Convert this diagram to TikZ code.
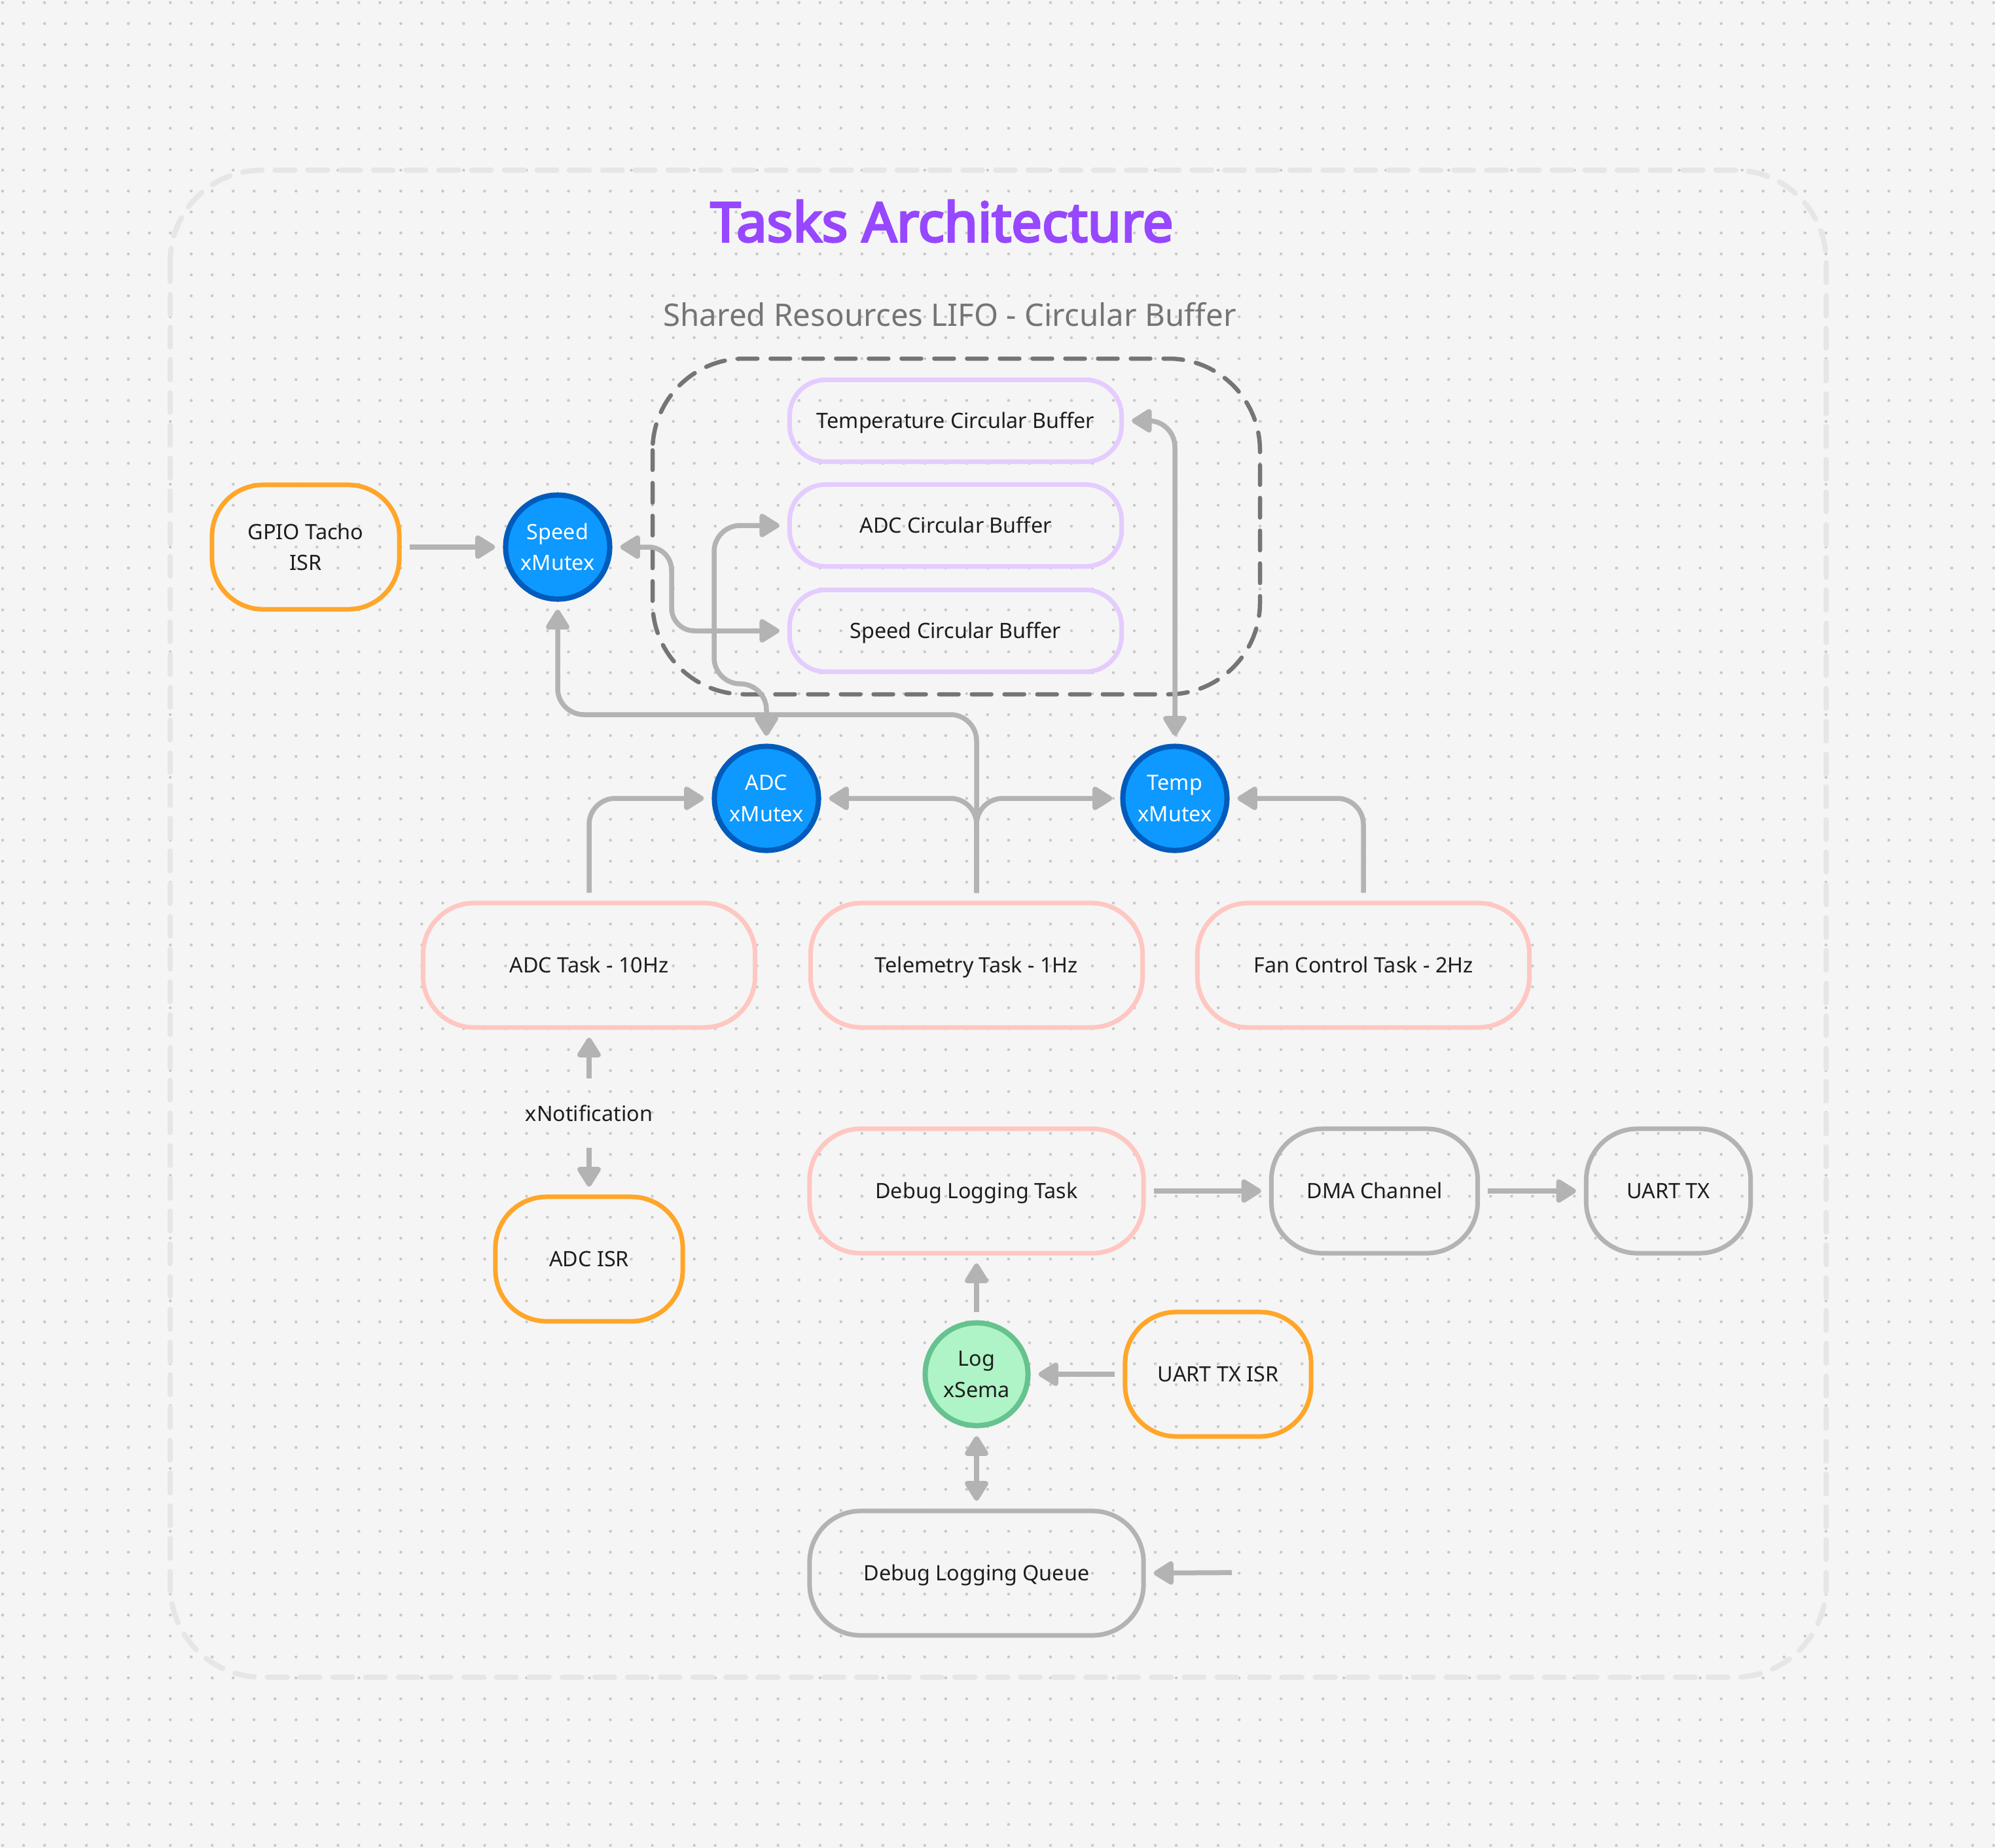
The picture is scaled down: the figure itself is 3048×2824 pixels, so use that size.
\documentclass[tikz,border=0pt]{standalone}
\usepackage{fontspec}
\setmainfont{Noto Sans}
\newfontfamily\titlefont{Noto Sans}[FakeBold=4]
\usetikzlibrary{arrows.meta}

\definecolor{bgcol}{HTML}{F5F5F5}
\definecolor{dotcol}{HTML}{C9C9C9}
\definecolor{framecol}{HTML}{E6E6E6}
\definecolor{groupcol}{HTML}{757575}
\definecolor{titlecol}{HTML}{9747FF}
\definecolor{inkcol}{HTML}{1E1E1E}
\definecolor{bufcol}{HTML}{E4CCFF}
\definecolor{taskcol}{HTML}{FFC7C2}
\definecolor{isrcol}{HTML}{FFA629}
\definecolor{hwcol}{HTML}{B3B3B3}
\definecolor{conncol}{HTML}{B3B3B3}
\definecolor{mutexfill}{HTML}{0D99FF}
\definecolor{mutexline}{HTML}{005BBB}
\definecolor{semafill}{HTML}{AFF4C6}
\definecolor{semaline}{HTML}{66C28E}

\begin{document}
\begin{tikzpicture}[x=0.01cm,y=-0.01cm,
    >={Triangle[length=0.34cm,width=0.4cm,round]},
    every node/.style={font=\fontsize{9.2}{13.5}\selectfont,text=inkcol,inner sep=0pt},
    oneline/.style={text height=0.23cm,text depth=0pt},
    roundbox/.style={line width=0.07cm,rounded corners=0.78cm,minimum height=1.9cm,align=center},
    taskbox/.style={roundbox,oneline,draw=taskcol,minimum width=5.07cm},
    isrbox/.style={roundbox,draw=isrcol,minimum width=2.86cm},
    hwbox/.style={roundbox,oneline,draw=hwcol},
    bufbox/.style={oneline,draw=bufcol,line width=0.07cm,rounded corners=0.55cm,minimum width=5.07cm,minimum height=1.25cm},
    mutex/.style={circle,draw=mutexline,fill=mutexfill,line width=0.08cm,minimum size=1.59cm,align=center,text=white},
    sema/.style={circle,draw=semaline,fill=semafill,line width=0.08cm,minimum size=1.57cm,align=center},
    conn/.style={draw=conncol,line width=0.075cm,->,rounded corners=0.4cm,shorten >=0.12cm,shorten <=0.12cm},
    dotrow/.style={dotcol,line width=0.045cm,line cap=round,dash pattern=on 0pt off 0.32cm}]

  \fill[bgcol] (0,0) rectangle (3048,2824);
  \useasboundingbox (0,0) rectangle (3048,2824);
  \foreach \row in {0,...,88}
    \draw[dotrow] (4,4+32*\row) -- (3048,4+32*\row);

  \draw[framecol,line width=0.08cm,line cap=round,dash pattern=on 0.3cm off 0.2cm,rounded corners=1.4cm] (260,260) rectangle (2790,2563);
  \draw[groupcol,line width=0.065cm,line cap=round,dash pattern=on 0.3cm off 0.2cm,rounded corners=1.4cm] (997,548) rectangle (1925,1061);

  \node[font=\titlefont\fontsize{23.6}{28}\selectfont,text=titlecol] (title) at (1439,338) {Tasks Architecture};
  \node[font=\fontsize{13.5}{17}\selectfont,text=groupcol] (shared) at (1451,481) {Shared Resources LIFO - Circular Buffer};

  \node[bufbox] (tempbuf) at (1460,643) {Temperature Circular Buffer};
  \node[bufbox] (adcbuf) at (1460,803) {ADC Circular Buffer};
  \node[bufbox] (speedbuf) at (1460,964) {Speed Circular Buffer};

  \node[isrbox] (tacho) at (467,836) {GPIO Tacho\\ISR};
  \node[mutex] (speedmx) at (852,836) {Speed\\xMutex};
  \node[mutex] (adcmx) at (1171,1220) {ADC\\xMutex};
  \node[mutex] (tempmx) at (1795,1220) {Temp\\xMutex};

  \node[taskbox] (adctask) at (900,1475) {ADC Task - 10Hz};
  \node[taskbox] (telemetry) at (1492,1475) {Telemetry Task - 1Hz};
  \node[taskbox] (fantask) at (2083,1475) {Fan Control Task - 2Hz};

  \node[minimum height=0.8cm] (xnote) at (900,1701) {xNotification};
  \node[isrbox,oneline] (adcisr) at (900,1924) {ADC ISR};

  \node[taskbox,minimum width=5.1cm] (dbgtask) at (1492,1820) {Debug Logging Task};
  \node[hwbox,minimum width=3.15cm] (dma) at (2100,1820) {DMA Channel};
  \node[hwbox,minimum width=2.51cm] (uarttx) at (2549,1820) {UART TX};
  \node[sema] (logsema) at (1492,2100) {Log\\xSema};
  \node[isrbox,oneline,minimum width=2.84cm] (uartisr) at (1861,2100) {UART TX ISR};
  \node[hwbox,minimum width=5.1cm] (dbgqueue) at (1492,2404) {Debug Logging Queue};
  \coordinate (queuein) at (1894,2403);

  \draw[conn] (tacho.east) -- (speedmx.west);
  \draw[conn] (telemetry.north) -- (1492,1092) -- (852,1092) -- (speedmx.south);
  \draw[conn] (telemetry.north) -- (telemetry.north |- adcmx.east) -- (adcmx.east);
  \draw[conn] (telemetry.north) -- (telemetry.north |- tempmx.west) -- (tempmx.west);
  \draw[conn] (adctask.north) -- (adctask.north |- adcmx.west) -- (adcmx.west);
  \draw[conn] (fantask.north) -- (fantask.north |- tempmx.east) -- (tempmx.east);

  \draw[conn,<->] (adcmx.north) -- (1171,1045) -- (1091,1045) -- (1091,803) -- (adcbuf.west);
  \draw[conn,<->,rounded corners=0.35cm] (speedmx.east) -- (1026,836) -- (1026,964) -- (speedbuf.west);
  \draw[conn,<->] (tempmx.north) -- (tempmx.north |- tempbuf.east) -- (tempbuf.east);

  \draw[conn] (xnote.north) -- (adctask.south);
  \draw[conn] (xnote.south) -- (adcisr.north);

  \draw[conn] (dbgtask.east) -- (dma.west);
  \draw[conn] (dma.east) -- (uarttx.west);
  \draw[conn] (logsema.north) -- (dbgtask.south);
  \draw[conn] (uartisr.west) -- (logsema.east);
  \draw[conn,<->] (logsema.south) -- (dbgqueue.north);
  \draw[conn] (queuein) -- (dbgqueue.east);
\end{tikzpicture}
\end{document}
